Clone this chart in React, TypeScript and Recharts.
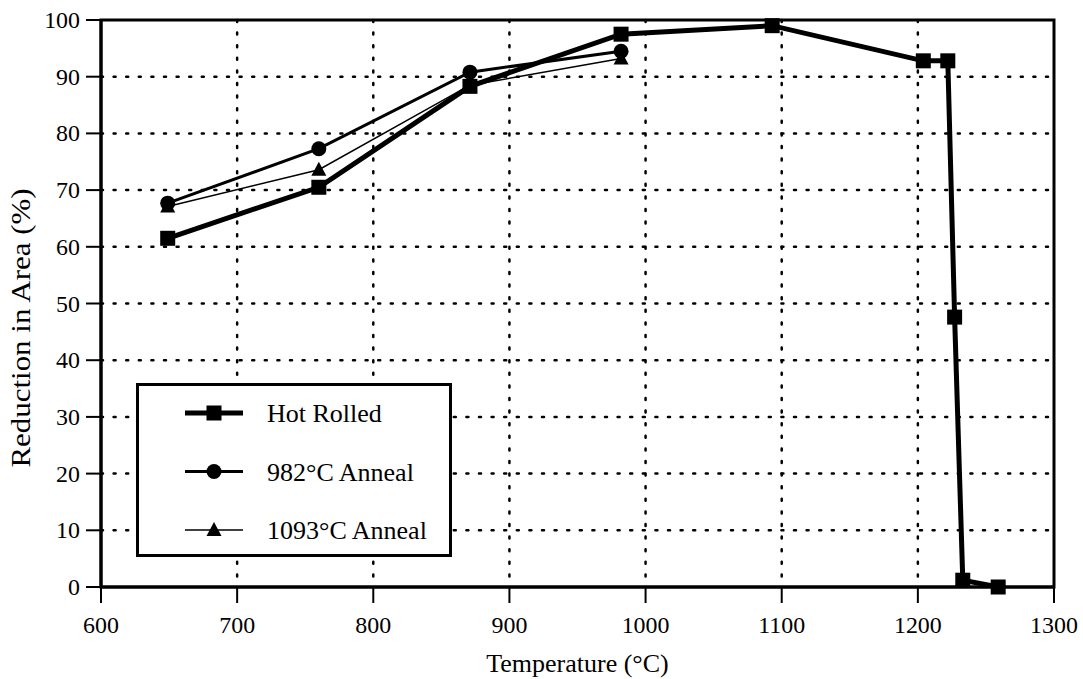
import {
  LineChart,
  Line,
  XAxis,
  YAxis,
  CartesianGrid,
  ReferenceArea,
  Legend,
} from "recharts";

// test temperatures (°C) and reduction in area (%)
const hotRolledTemps = [649, 760, 871, 982, 1093, 1204, 1222, 1227, 1233, 1259];
const hotRolledRA = [61.5, 70.5, 88.3, 97.5, 99, 92.8, 92.8, 47.6, 1.2, 0];

const anneal982Temps = [649, 760, 871, 982];
const anneal982RA = [67.7, 77.3, 90.8, 94.5];

const anneal1093Temps = [649, 760, 871, 982];
const anneal1093RA = [67.1, 73.6, 88.5, 93.2];

const xTicks = [600, 700, 800, 900, 1000, 1100, 1200, 1300];
const yTicks = [0, 10, 20, 30, 40, 50, 60, 70, 80, 90, 100];

const zip = (t: number[], v: number[]) => t.map((temp, i) => ({ temp, ra: v[i] }));

const hotRolled = zip(hotRolledTemps, hotRolledRA);
const anneal982 = zip(anneal982Temps, anneal982RA);
const anneal1093 = zip(anneal1093Temps, anneal1093RA);

// text is set at 26px and scaled, so the serif face is always picked up
const FONT = "Liberation Serif";

const XTick = (p: any) => (
  <text
    transform={`translate(${p.x},${p.y + 18}) scale(0.92)`}
    textAnchor="middle"
    fontFamily={FONT}
    fontSize={26}
    fill="#000"
  >
    {p.payload.value}
  </text>
);

const YTick = (p: any) => (
  <text
    transform={`translate(${p.x},${p.y + 8}) scale(0.92)`}
    textAnchor="end"
    fontFamily={FONT}
    fontSize={26}
    fill="#000"
  >
    {p.payload.value}
  </text>
);

const SquareDot = (p: any) => (
  <rect key={p.index} x={p.cx - 7.5} y={p.cy - 7.5} width={15} height={15} fill="#000" />
);
const CircleDot = (p: any) => (
  <circle key={p.index} cx={p.cx} cy={p.cy} r={7.5} fill="#000" />
);
const TriangleDot = (p: any) => (
  <polygon
    key={p.index}
    points={`${p.cx},${p.cy - 8} ${p.cx + 7.5},${p.cy + 6} ${p.cx - 7.5},${p.cy + 6}`}
    fill="#000"
  />
);

const legendRows = [
  { name: "Hot Rolled", width: 5, Dot: SquareDot },
  { name: "982°C Anneal", width: 3, Dot: CircleDot },
  { name: "1093°C Anneal", width: 1.5, Dot: TriangleDot },
];

const LegendBox = () => (
  <div
    style={{
      width: 316,
      height: 174,
      boxSizing: "border-box",
      border: "3px solid #000",
      background: "#fff",
    }}
  >
    <svg width={310} height={168}>
      {legendRows.map((r, i) => {
        const y = 27 + i * 58.5;
        return (
          <g key={r.name}>
            <line x1={46} x2={104} y1={y} y2={y} stroke="#000" strokeWidth={r.width} />
            <r.Dot cx={75} cy={y} index={i} />
            <text x={128} y={y + 9} fontSize={26} fill="#000" fontFamily={FONT}>
              {r.name}
            </text>
          </g>
        );
      })}
    </svg>
  </div>
);

const YTitle = () => (
  <text
    transform="translate(30,328) rotate(-90) scale(1.19,1.08)"
    textAnchor="middle"
    fontSize={26}
    fill="#000"
    fontFamily={FONT}
  >
    Reduction in Area (%)
  </text>
);

export default function App() {
  return (
    <div style={{ position: "absolute", left: 0, top: 0, background: "#fff", fontFamily: FONT }}>
      <LineChart
        width={1083}
        height={679}
        margin={{ top: 20, right: 29, bottom: 0, left: 0 }}
      >
        <CartesianGrid
          stroke="#000"
          strokeWidth={2.5}
          strokeDasharray="2 10.6"
          strokeLinecap="round"
          horizontalValues={yTicks.slice(1, -1)}
          verticalValues={xTicks.slice(1, -1)}
        />
        <XAxis
          type="number"
          dataKey="temp"
          domain={[600, 1300]}
          ticks={xTicks}
          allowDuplicatedCategory={false}
          height={92}
          tickSize={16}
          tickMargin={12}
          stroke="#000"
          strokeWidth={3}
          tickLine={{ stroke: "#000", strokeWidth: 2 }}
          tick={XTick}
          label={{
            value: "Temperature (°C)",
            position: "insideBottom",
            offset: 7,
            fill: "#000",
            fontSize: 26,
            fontFamily: FONT,
          }}
        />
        <YAxis
          type="number"
          dataKey="ra"
          domain={[0, 100]}
          ticks={yTicks}
          width={101}
          tickSize={15}
          tickMargin={6}
          stroke="#000"
          strokeWidth={3}
          tickLine={{ stroke: "#000", strokeWidth: 2 }}
          tick={YTick}
          label={{ content: () => <YTitle /> }}
        />
        <ReferenceArea
          x1={600}
          x2={1300}
          y1={0}
          y2={100}
          fill="none"
          stroke="#000"
          strokeWidth={3}
          ifOverflow="visible"
        />
        <Line
          data={anneal1093}
          dataKey="ra"
          name="1093°C Anneal"
          stroke="#000"
          strokeWidth={1.5}
          dot={TriangleDot}
          activeDot={false}
          isAnimationActive={false}
        />
        <Line
          data={anneal982}
          dataKey="ra"
          name="982°C Anneal"
          stroke="#000"
          strokeWidth={3}
          dot={CircleDot}
          activeDot={false}
          isAnimationActive={false}
        />
        <Line
          data={hotRolled}
          dataKey="ra"
          name="Hot Rolled"
          stroke="#000"
          strokeWidth={5}
          dot={SquareDot}
          activeDot={false}
          isAnimationActive={false}
        />
        <Legend
          layout="vertical"
          align="center"
          verticalAlign="middle"
          content={() => <LegendBox />}
          wrapperStyle={{ left: 136, top: 383, width: 316, height: 174 }}
        />
      </LineChart>
    </div>
  );
}
